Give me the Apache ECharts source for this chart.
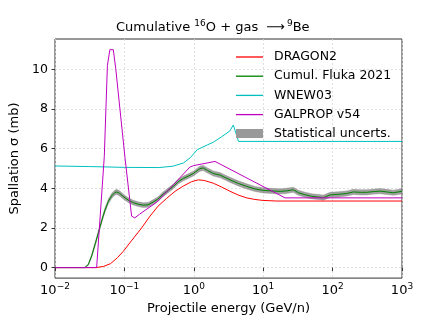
<!DOCTYPE html>
<html>
<head>
<meta charset="utf-8">
<script src="https://cdn.jsdelivr.net/npm/echarts@6/dist/echarts.min.js"></script>
<style>
  html, body { margin: 0; padding: 0; background: #fff; }
  #chart { width: 447px; height: 320px; }
</style>
</head>
<body>
<div id="chart"></div>
<script>
// energies in GeV/n, cross sections in mb
const dragonE = [0.01, 0.0389, 0.0501, 0.0631, 0.0794, 0.0964, 0.126, 0.177, 0.234, 0.305, 0.407, 0.536, 0.708, 0.933, 1.16, 1.41, 1.91, 2.51, 3.33, 4.47, 5.78, 7.59, 10, 15.8, 1000];
const dragonSigma = [0, 0, 0.06, 0.2, 0.5, 0.82, 1.35, 2.0, 2.6, 3.1, 3.5, 3.85, 4.12, 4.34, 4.43, 4.4, 4.26, 4.07, 3.85, 3.65, 3.52, 3.44, 3.39, 3.36, 3.36];

const flukaE = [0.01, 0.0269, 0.0302, 0.0338, 0.038, 0.0421, 0.0479, 0.0525, 0.0589, 0.0656, 0.0724, 0.0774, 0.0851, 0.102, 0.117, 0.134, 0.158, 0.187, 0.219, 0.258, 0.302, 0.36, 0.427, 0.507, 0.603, 0.706, 0.832, 0.984, 1.23, 1.37, 1.58, 1.91, 2.39, 2.82, 3.33, 4.37, 5.78, 7.59, 10.0, 13.2, 17.5, 21.4, 27.2, 32.1, 39.8, 50, 73.5, 91.8, 120, 160, 199, 251, 310, 398, 482, 603, 750, 1000];
const flukaSigma = [0, 0, 0.15, 0.6, 1.2, 1.75, 2.45, 2.9, 3.35, 3.62, 3.78, 3.82, 3.75, 3.52, 3.38, 3.28, 3.2, 3.15, 3.17, 3.3, 3.45, 3.7, 3.9, 4.1, 4.35, 4.5, 4.62, 4.75, 5.0, 5.03, 4.9, 4.75, 4.67, 4.55, 4.43, 4.25, 4.1, 3.97, 3.9, 3.87, 3.85, 3.87, 3.93, 3.78, 3.68, 3.6, 3.53, 3.67, 3.7, 3.74, 3.82, 3.8, 3.8, 3.84, 3.86, 3.82, 3.78, 3.85];
const flukaErr = [0, 0, 0.04, 0.08, 0.1, 0.1, 0.11, 0.12, 0.12, 0.13, 0.13, 0.13, 0.13, 0.12, 0.12, 0.12, 0.12, 0.12, 0.12, 0.12, 0.12, 0.12, 0.12, 0.12, 0.12, 0.12, 0.12, 0.12, 0.13, 0.13, 0.13, 0.13, 0.13, 0.13, 0.13, 0.13, 0.13, 0.13, 0.13, 0.13, 0.13, 0.13, 0.13, 0.13, 0.13, 0.13, 0.13, 0.13, 0.13, 0.13, 0.13, 0.13, 0.13, 0.13, 0.13, 0.13, 0.13, 0.13];

const wnewE = [0.01, 0.0316, 0.1, 0.316, 0.501, 0.708, 0.891, 1.12, 1.58, 1.91, 2.51, 3.31, 3.71, 4.41, 1000];
const wnewSigma = [5.13, 5.1, 5.06, 5.05, 5.12, 5.28, 5.55, 5.95, 6.2, 6.33, 6.6, 6.9, 7.2, 6.37, 6.37];

const galpropE = [0.01, 0.0398, 0.0513, 0.0569, 0.0617, 0.0692, 0.075, 0.102, 0.127, 0.141, 0.166, 0.292, 0.507, 0.881, 1.0, 2.02, 20.6, 1000];
const galpropSigma = [0, 0, 5.6, 10.2, 11.0, 11.0, 10.05, 5.55, 2.6, 2.51, 2.7, 3.3, 4.18, 5.08, 5.15, 5.36, 3.52, 3.52];

const yTicks = [0, 2, 4, 6, 8, 10];
const seriesNames = ['DRAGON2', 'Cumul. Fluka 2021', 'WNEW03', 'GALPROP v54'];
const bandName = 'Statistical uncerts.';

const FONT = 'DejaVu Sans';
const pairs = (xs, ys) => xs.map((x, i) => [x, ys[i]]);

const chart = echarts.init(document.getElementById('chart'));

const lineSeries = (name, xs, ys, color) => ({
  name: name,
  type: 'line',
  data: pairs(xs, ys),
  symbol: 'none',
  lineStyle: { color: color, width: 1 },
  itemStyle: { color: color },
  z: 3
});

// grey band drawn as one polygon: upper edge left->right, lower edge back
const renderBand = (params, api) => {
  if (params.dataIndex !== 0) return;
  const upper = flukaE.map((e, i) => api.coord([e, flukaSigma[i] + flukaErr[i]]));
  const lower = flukaE.map((e, i) => api.coord([e, flukaSigma[i] - flukaErr[i]])).reverse();
  return {
    type: 'polygon',
    shape: { points: upper.concat(lower) },
    style: { fill: 'rgba(128,128,128,0.75)', stroke: 'rgba(128,128,128,0.35)', lineWidth: 1 }
  };
};

const options = {
  animation: false,
  title: {
    text: '{a|Cumulative }{s|16}{a|O + gas }{r|⟶}{s|9}{a|Be}',
    left: 111,
    top: 14,
    textStyle: {
      fontWeight: 'normal',
      rich: {
        a: { fontFamily: FONT, fontSize: 13, fontWeight: 'normal', color: '#000', lineHeight: 18 },
        r: { fontFamily: FONT, fontSize: 13, fontWeight: 'normal', color: '#000', lineHeight: 18, padding: [0, 2, 0, 4] },
        s: { fontFamily: FONT, fontSize: 9, fontWeight: 'normal', color: '#000', verticalAlign: 'top', lineHeight: 18 }
      }
    }
  },
  grid: {
    left: 55,
    right: 45,
    top: 39,
    bottom: 36,
    show: true,
    borderColor: '#333',
    borderWidth: 1
  },
  legend: [
    {
      data: seriesNames,
      orient: 'vertical',
      left: 231,
      top: 45,
      icon: 'rect',
      itemWidth: 27,
      itemHeight: 1.3,
      itemGap: 5.2,
      textStyle: { fontFamily: FONT, fontSize: 12.5, color: '#000', lineHeight: 14, padding: [0, 0, 0, 6] }
    },
    {
      data: [bandName],
      left: 231,
      top: 121.5,
      icon: 'rect',
      itemWidth: 27,
      itemHeight: 9,
      textStyle: { fontFamily: FONT, fontSize: 12.5, color: '#000', lineHeight: 14, padding: [0, 0, 0, 6] }
    }
  ],
  xAxis: {
    type: 'log',
    logBase: 10,
    min: 0.01,
    max: 1000,
    name: 'Projectile energy (GeV/n)',
    nameLocation: 'middle',
    nameGap: 22,
    nameTextStyle: { fontFamily: FONT, fontSize: 13, color: '#000' },
    axisLine: { show: false },
    axisTick: { inside: false, length: 3.5, lineStyle: { color: '#333' } },
    minorTick: { show: false },
    splitLine: { show: true, lineStyle: { color: '#d9d9d9', type: [2, 2], width: 0.8 } },
    axisLabel: {
      margin: 4,
      formatter: v => {
        const p = Math.round(Math.log10(v));
        return '{b|10}{s|' + (p < 0 ? '\u2212' + (-p) : p) + '}';
      },
      rich: {
        b: { fontFamily: FONT, fontSize: 13, color: '#000', lineHeight: 17 },
        s: { fontFamily: FONT, fontSize: 9, color: '#000', verticalAlign: 'top', lineHeight: 17 }
      }
    }
  },
  yAxis: {
    type: 'value',
    min: -0.53,
    max: 11.54,
    name: 'Spallation \u03c3 (mb)',
    nameLocation: 'middle',
    nameGap: 27,
    nameTextStyle: { fontFamily: FONT, fontSize: 13, color: '#000' },
    axisLine: { show: false },
    axisTick: { inside: false, length: 3.5, customValues: yTicks, lineStyle: { color: '#333' } },
    splitLine: { show: true, lineStyle: { color: '#d9d9d9', type: [2, 2], width: 0.8 } },
    axisLabel: {
      customValues: yTicks,
      margin: 7,
      fontFamily: FONT,
      fontSize: 12.5,
      color: '#000'
    }
  },
  series: [
    {
      name: bandName,
      type: 'custom',
      renderItem: renderBand,
      data: pairs(flukaE, flukaSigma),
      itemStyle: { color: '#999999' },
      silent: true,
      z: 2
    },
    lineSeries('DRAGON2', dragonE, dragonSigma, '#ff0000'),
    lineSeries('Cumul. Fluka 2021', flukaE, flukaSigma, '#008000'),
    lineSeries('WNEW03', wnewE, wnewSigma, '#00bfbf'),
    lineSeries('GALPROP v54', galpropE, galpropSigma, '#bf00bf')
  ]
};

chart.setOption(options);

window.addEventListener('resize', () => {
  chart.resize();
});
</script>
</body>
</html>
